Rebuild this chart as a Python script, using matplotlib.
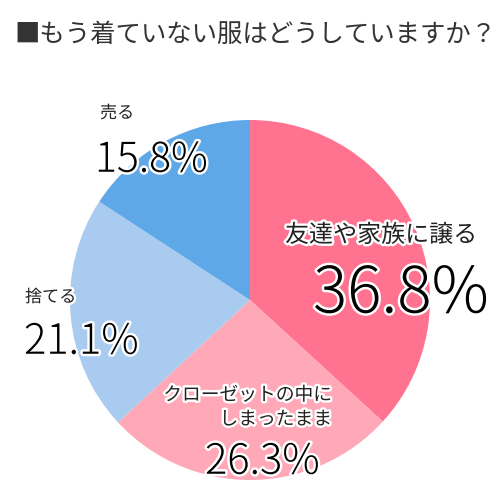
import matplotlib
matplotlib.use("Agg")
import matplotlib.pyplot as plt
import matplotlib.patheffects as pe

plt.rcParams['font.family'] = ['Noto Sans CJK JP', 'DejaVu Sans']

title = "■もう着ていない服はどうしていますか？"
labels = ["友達や家族に譲る", "クローゼットの中に\nしまったまま", "捨てる", "売る"]
values = [36.8, 26.3, 21.1, 15.8]
colors = ["#ff7390", "#ffa8b7", "#a8cbef", "#5ea8e7"]

fig = plt.figure(figsize=(5, 5), dpi=100)

# pie: centre (250, 300) px, radius 180 px
ax = fig.add_axes([70 / 500, 20 / 500, 360 / 500, 360 / 500])
ax.pie(values, colors=colors, startangle=90, counterclock=False,
       radius=1, wedgeprops=dict(linewidth=0))
ax.set_xlim(-1, 1)
ax.set_ylim(-1, 1)
ax.set_aspect("equal")
ax.axis("off")

fig.text(14 / 500, 1 - 35 / 500, title, fontsize=18.3, color="#333333",
         va="center", ha="left")

stroke = [pe.withStroke(linewidth=3.5, foreground="white")]

def px(x, y):
    return x / 500, 1 - y / 500

# (label x, label y, label size, pct x, pct y, pct size, label ha)
spots = [
    (285, 235, 17.3, 313, 295, 46, "left"),
    (332, 407, 13.5, 205, 462, 30, "right"),
    (25, 297, 12.3, 24, 342, 30, "left"),
    (100, 113, 12.3, 95, 160, 29.5, "left"),
]

for lab, val, s in zip(labels, values, spots):
    lx, ly, ls, vx, vy, vs, ha = s
    fig.text(*px(lx, ly), lab, fontsize=ls, color="#222222", ha=ha,
             va="center", multialignment="right", linespacing=1.2,
             path_effects=stroke)
    fig.text(*px(vx, vy), f"{val:.1f}%", fontsize=vs, color="black",
             ha="left", va="center", fontweight="light",
             path_effects=stroke)

fig.savefig("out.png", dpi=100)
